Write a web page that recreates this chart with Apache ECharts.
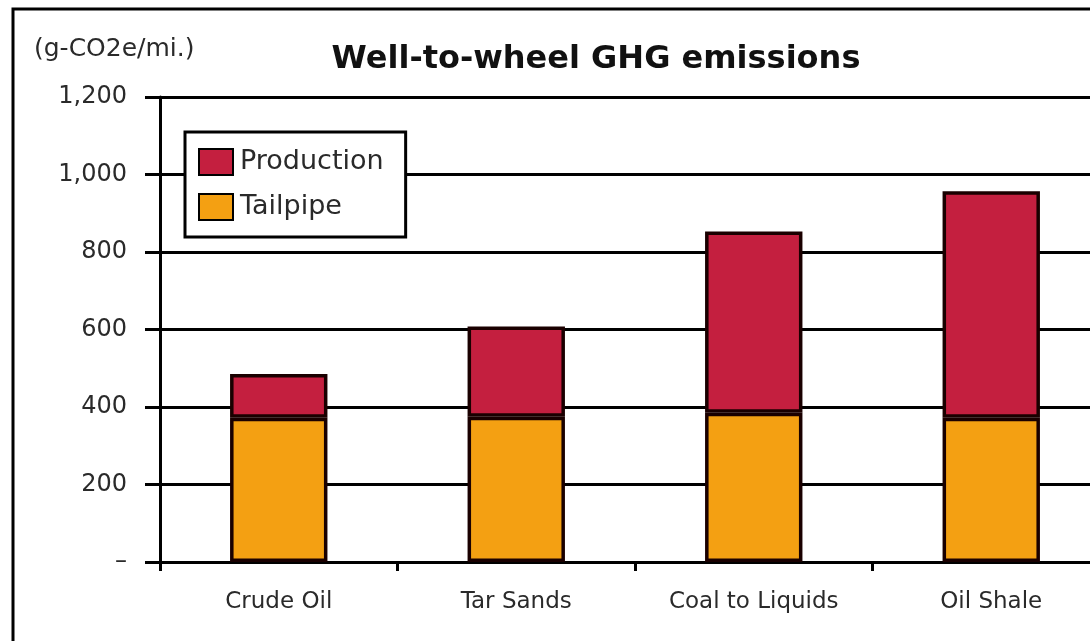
<!DOCTYPE html>
<html>
<head>
<meta charset="utf-8">
<title>Well-to-wheel GHG emissions</title>
<script src="https://cdn.jsdelivr.net/npm/echarts@6/dist/echarts.min.js"></script>
<style>
  html, body { margin: 0; padding: 0; background: #fff; }
  #chart { width: 1090px; height: 641px; }
</style>
</head>
<body>
<div id="chart"></div>
<script>
// 数据
const categories = ["Crude Oil", "Tar Sands", "Coal to Liquids", "Oil Shale"];
const tailpipe = [372, 375, 385, 372];
const production = [113, 233, 468, 585];
const yTicks = [0, 200, 400, 600, 800, 1000, 1200];

const font = "'DejaVu Sans', 'Liberation Sans', Arial, sans-serif";
const chart = echarts.init(document.getElementById("chart"));

const options = {
  animation: false,
  backgroundColor: "#fff",
  textStyle: { fontFamily: font },
  title: {
    text: "Well-to-wheel GHG emissions",
    left: 591,
    top: 39,
    textAlign: "center",
    textStyle: { fontSize: 32, fontWeight: "bold", color: "#111", fontFamily: font },
  },
  graphic: [
    {
      // 外框
      type: "rect",
      shape: { x: 13, y: 9, width: 1200, height: 700 },
      style: { fill: "none", stroke: "#000", lineWidth: 3 },
      silent: true,
    },
    {
      type: "text",
      left: 34,
      top: 37,
      style: { text: "(g-CO2e/mi.)", fontSize: 25, fill: "#2a2a2a", fontFamily: font },
    },
  ],
  legend: {
    data: ["Production", "Tailpipe"],
    orient: "vertical",
    left: 185,
    top: 132,
    padding: [16, 22, 16, 13],
    itemGap: 17,
    itemWidth: 34,
    itemHeight: 26,
    icon: "rect",
    backgroundColor: "#fff",
    borderColor: "#000",
    borderWidth: 3,
    itemStyle: { borderColor: "#000", borderWidth: 2 },
    textStyle: { fontSize: 27, color: "#2a2a2a", fontFamily: font, padding: [0, 0, 0, 2] },
  },
  grid: {
    left: 160,
    top: 97,
    width: 950,
    height: 465,
    outerBoundsMode: "none",
    containLabel: false,
  },
  xAxis: {
    type: "category",
    data: categories,
    axisLine: { lineStyle: { color: "#000", width: 3 } },
    axisTick: { show: true, inside: false, length: 9, lineStyle: { color: "#000", width: 3 } },
    axisLabel: { fontSize: 23, color: "#2a2a2a", margin: 29, fontFamily: font },
  },
  yAxis: {
    type: "value",
    min: yTicks[0],
    max: yTicks[yTicks.length - 1],
    interval: 200,
    axisLine: { show: true, lineStyle: { color: "#000", width: 3 } },
    axisTick: { show: true, length: 15, lineStyle: { color: "#000", width: 3 } },
    splitLine: { show: true, lineStyle: { color: "#000", width: 3 } },
    axisLabel: {
      fontSize: 24,
      color: "#2a2a2a",
      margin: 33,
      fontFamily: font,
      formatter: (v) => (v === 0 ? "–" : v.toLocaleString("en-US")),
    },
  },
  series: [
    {
      name: "Tailpipe",
      type: "bar",
      stack: "total",
      data: tailpipe,
      barWidth: "41%",
      itemStyle: { color: "#F4A012", borderColor: "#1a0000", borderWidth: 3.5 },
    },
    {
      name: "Production",
      type: "bar",
      stack: "total",
      data: production,
      barWidth: "41%",
      itemStyle: { color: "#C41F3F", borderColor: "#1a0000", borderWidth: 3.5 },
    },
  ],
};

chart.setOption(options);
</script>
</body>
</html>
